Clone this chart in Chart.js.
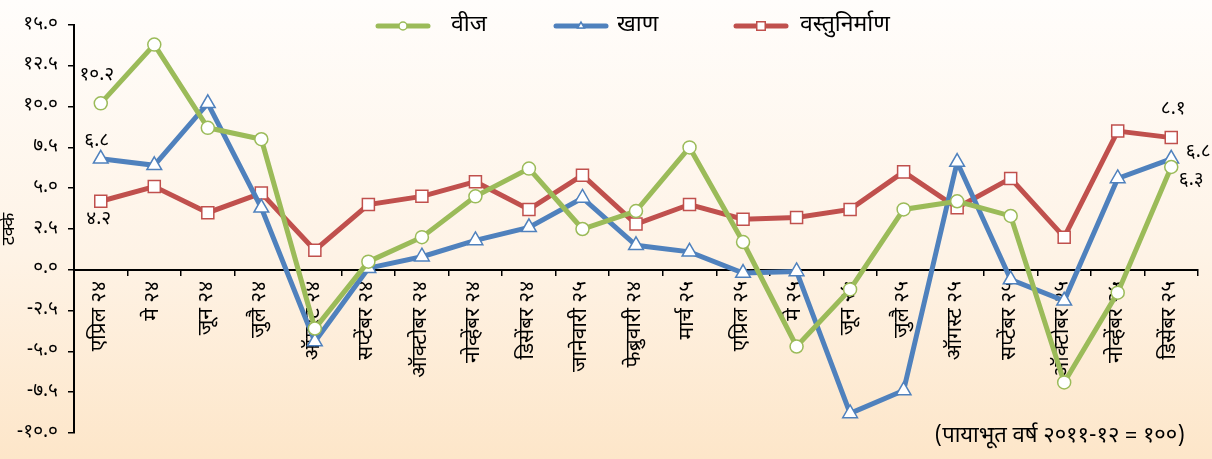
<!DOCTYPE html>
<html>
<head>
<meta charset="utf-8">
<script src="https://cdn.jsdelivr.net/npm/chart.js@4.4.1/dist/chart.umd.min.js"></script>
<style>
  html, body { margin: 0; padding: 0; }
  body { width: 1212px; height: 459px; background: linear-gradient(to bottom, #fffdfb 0%, #fef3e6 55%, #fde6c9 100%); }
  #wrap { position: relative; width: 1212px; height: 459px; }
</style>
</head>
<body>
<div id="wrap"><canvas id="myLineChart"></canvas></div>
<script>
var months = ["एप्रिल २४", "मे २४", "जून २४", "जुलै २४", "ऑगस्ट २४", "सप्टेंबर २४", "ऑक्टोबर २४", "नोव्हेंबर २४", "डिसेंबर २४", "जानेवारी २५", "फेब्रुवारी २४",
  "मार्च २५", "एप्रिल २५", "मे २५", "जून २५", "जुलै २५", "ऑगस्ट २५", "सप्टेंबर २५", "ऑक्टोबर २५", "नोव्हेंबर २५", "डिसेंबर २५"];

var seriesNames = ["वीज", "खाण", "वस्तुनिर्माण"];
var vij = [10.2, 13.8, 8.7, 8.0, -3.6, 0.5, 2.0, 4.5, 6.2, 2.5, 3.6, 7.5, 1.7, -4.7, -1.2, 3.7, 4.2, 3.3, -6.9, -1.4, 6.3];
var khan = [6.8, 6.4, 10.2, 3.8, -4.4, 0.1, 0.8, 1.8, 2.6, 4.4, 1.5, 1.1, -0.2, -0.1, -8.8, -7.4, 6.6, -0.6, -1.9, 5.6, 6.8];
var vastu = [4.2, 5.1, 3.5, 4.7, 1.2, 4.0, 4.5, 5.4, 3.7, 5.8, 2.8, 4.0, 3.1, 3.2, 3.7, 6.0, 3.8, 5.6, 2.0, 8.5, 8.1];
var yTicks = [15, 12.5, 10, 7.5, 5, 2.5, 0, -2.5, -5, -7.5, -10];
var yTitle = "टक्के";
var baseNote = "(पायाभूत वर्ष २०११-१२ = १००)";

var devFont = "'Noto Sans Devanagari', 'Lohit Devanagari', 'Noto Sans', sans-serif";
var devDigits = "०१२३४५६७८९";
function toDev(s) {
  return String(s).replace(/[0-9]/g, function(d) { return devDigits[+d]; });
}

// which points carry a value label, and where it sits from the point
var valueNotes = [
  {ds: 0, idx: 0, dx: -4, dy: -27},
  {ds: 1, idx: 0, dx: -4, dy: -16},
  {ds: 2, idx: 0, dx: -2, dy: 19},
  {ds: 2, idx: 20, dx: 2, dy: -27},
  {ds: 1, idx: 20, dx: 27, dy: -5},
  {ds: 0, idx: 20, dx: 20, dy: 14}
];
var legendSpots = [{line: 378, text: 451}, {line: 556, text: 617}, {line: 736, text: 800}];

var extras = {
  id: 'extras',
  afterDatasetsDraw: function(chart) {
    var ctx = chart.ctx;
    ctx.save();
    ctx.fillStyle = '#000';
    ctx.textAlign = 'center';
    ctx.textBaseline = 'middle';
    ctx.font = '19px ' + devFont;
    valueNotes.forEach(function(n) {
      var pt = chart.getDatasetMeta(n.ds).data[n.idx];
      var v = chart.data.datasets[n.ds].data[n.idx];
      ctx.fillText(toDev(v.toFixed(1)), pt.x + n.dx, pt.y + n.dy);
    });

    // legend
    chart.data.datasets.forEach(function(ds, i) {
      var x0 = legendSpots[i].line, y = 26;
      ctx.strokeStyle = ds.borderColor;
      ctx.lineWidth = 5;
      ctx.lineCap = 'round';
      ctx.beginPath();
      ctx.moveTo(x0, y);
      ctx.lineTo(x0 + 50, y);
      ctx.stroke();
      ctx.fillStyle = '#fff';
      ctx.lineWidth = 1.5;
      Chart.helpers.drawPoint(ctx, {pointStyle: ds.pointStyle, radius: ds.pointStyle === 'rect' ? 6 : 4, borderWidth: 1.5, rotation: 0}, x0 + 25, y);
      ctx.fillStyle = '#000';
      ctx.textAlign = 'left';
      ctx.font = '23px ' + devFont;
      ctx.fillText(ds.label, legendSpots[i].text, y + 1);
    });

    ctx.textAlign = 'right';
    ctx.font = '22px ' + devFont;
    ctx.fillText(baseNote, 1185, 438);
    ctx.restore();
  }
};

var ctx = document.getElementById('myLineChart').getContext('2d');

var data = {
  labels: months,
  datasets: [
    {
      label: seriesNames[0],
      data: vij,
      borderColor: '#9bbb59',
      backgroundColor: '#ffffff',
      pointStyle: 'circle',
      pointRadius: 6.5,
      pointHoverRadius: 6.5,
      pointBorderWidth: 1.5,
      borderWidth: 5,
      order: 1
    },
    {
      label: seriesNames[1],
      data: khan,
      borderColor: '#4f81bd',
      backgroundColor: '#ffffff',
      pointStyle: 'triangle',
      pointRadius: 8.5,
      pointHoverRadius: 8.5,
      pointBorderWidth: 1.5,
      borderWidth: 5,
      order: 2
    },
    {
      label: seriesNames[2],
      data: vastu,
      borderColor: '#c0504d',
      backgroundColor: '#ffffff',
      pointStyle: 'rect',
      pointRadius: 8.5,
      pointHoverRadius: 8.5,
      pointBorderWidth: 1.5,
      borderWidth: 5,
      order: 3
    }
  ]
};

var options = {
  responsive: true,
  maintainAspectRatio: false,
  animation: false,
  layout: { padding: { top: 25, right: 14, bottom: 26, left: 0 } },
  plugins: {
    legend: { display: false },
    tooltip: { enabled: false }
  },
  scales: {
    x: {
      position: { y: 0 },
      offset: true,
      grid: { offset: true, drawOnChartArea: false, color: '#000', tickLength: 5, lineWidth: 1.5 },
      border: { color: '#000', width: 2 },
      ticks: {
        autoSkip: false,
        minRotation: 90,
        maxRotation: 90,
        padding: 6,
        color: '#000',
        font: { family: devFont, size: 21 }
      }
    },
    y: {
      min: -10,
      max: 15,
      afterFit: function(scale) { scale.width = 74; },
      afterBuildTicks: function(scale) {
        scale.ticks = yTicks.map(function(v) { return {value: v}; });
      },
      grid: { drawOnChartArea: false, color: '#000', tickLength: 6, lineWidth: 1.5 },
      border: { color: '#000', width: 2 },
      ticks: {
        padding: 10,
        color: '#000',
        font: { family: devFont, size: 19 },
        callback: function(v) { return toDev(Number(v).toFixed(1)); }
      },
      title: {
        display: true,
        text: yTitle,
        color: '#000',
        padding: 0,
        font: { family: devFont, size: 18 }
      }
    }
  }
};

var myLineChart = new Chart(ctx, {
  type: 'line',
  data: data,
  options: options,
  plugins: [extras]
});
</script>
</body>
</html>
